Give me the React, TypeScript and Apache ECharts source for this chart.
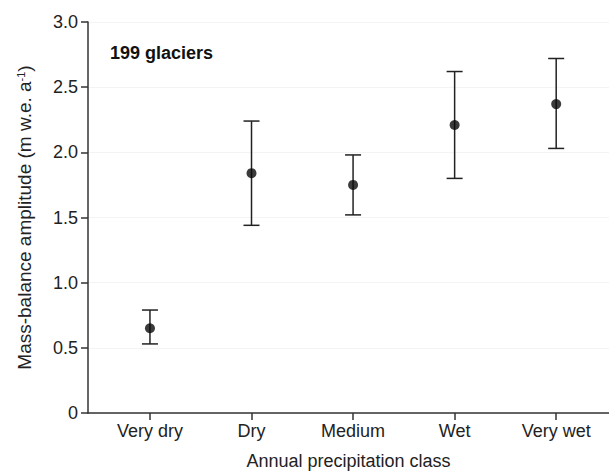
import React, { useEffect, useRef } from "react";
import * as echarts from "echarts";

const categories = ["Very dry", "Dry", "Medium", "Wet", "Very wet"];
const means = [0.65, 1.84, 1.75, 2.21, 2.37];
const lowers = [0.53, 1.44, 1.52, 1.8, 2.03];
const uppers = [0.79, 2.24, 1.98, 2.62, 2.72];
const yTicks = [0, 0.5, 1.0, 1.5, 2.0, 2.5, 3.0];

export default function App() {
  const ref = useRef<HTMLDivElement>(null);
  useEffect(() => {
    if (!ref.current) return;
    const chart = echarts.init(ref.current, null, { renderer: "svg" });
    const font = "Arial, 'Liberation Sans', Helvetica, sans-serif";
    const axisColor = "#333";
    const textColor = "#222";
    chart.setOption({
      animation: false,
      backgroundColor: "#fff",
      textStyle: { fontFamily: font },
      grid: { left: 88, right: 0, top: 22, bottom: 59.5, containLabel: false },
      graphic: [
        {
          type: "text",
          x: 110,
          y: 53,
          style: {
            text: "199 glaciers",
            font: `bold 18px ${font}`,
            fill: "#111",
            verticalAlign: "middle",
            align: "left",
          },
        },
      ],
      xAxis: {
        type: "value",
        min: -0.61,
        max: 4.52,
        splitLine: { show: false },
        axisLine: { onZero: false, lineStyle: { color: axisColor, width: 1.5 } },
        axisTick: {
          customValues: categories.map((_, i) => i),
          length: 7,
          lineStyle: { color: axisColor, width: 1.5 },
        },
        axisLabel: {
          customValues: categories.map((_, i) => i),
          formatter: (v: number) => categories[Math.round(v)] ?? "",
          color: textColor,
          fontSize: 18,
          fontFamily: font,
          margin: 9,
        },
        name: "Annual precipitation class",
        nameLocation: "middle",
        nameGap: 39,
        nameTextStyle: { color: textColor, fontSize: 18, fontFamily: font },
      },
      yAxis: {
        type: "value",
        min: 0,
        max: 3,
        interval: 0.5,
        axisLine: { show: true, onZero: false, lineStyle: { color: axisColor, width: 1.5 } },
        axisTick: { show: true, length: 7, lineStyle: { color: axisColor, width: 1.5 } },
        splitLine: { show: true, lineStyle: { color: "#f4f4f4", width: 1 } },
        axisLabel: {
          formatter: (v: number) => {
            const t = yTicks.find((k) => Math.abs(k - v) < 1e-6);
            const val = t === undefined ? v : t;
            return val === 0 ? "0" : val.toFixed(1);
          },
          color: textColor,
          fontSize: 18,
          fontFamily: font,
          margin: 10,
        },
        name: "Mass-balance amplitude (m w.e. a{sup|-1})",
        nameLocation: "middle",
        nameGap: 54,
        nameTextStyle: {
          color: textColor,
          fontSize: 19,
          fontFamily: font,
          rich: {
            sup: { fontSize: 11, verticalAlign: "top", color: textColor, fontFamily: font, padding: [0, 0, 8, 0] },
          },
        },
      },
      series: [
        {
          type: "custom",
          data: categories.map((_, i) => [i, lowers[i], uppers[i]]),
          encode: { x: 0, y: [1, 2] },
          renderItem: (params: any, api: any) => {
            const x = api.value(0);
            const lo = api.coord([x, api.value(1)]);
            const hi = api.coord([x, api.value(2)]);
            const half = 8;
            const style = { stroke: "#222", lineWidth: 1.5, fill: "none" };
            return {
              type: "group",
              children: [
                { type: "line", shape: { x1: lo[0], y1: lo[1], x2: hi[0], y2: hi[1] }, style },
                { type: "line", shape: { x1: lo[0] - half, y1: lo[1], x2: lo[0] + half, y2: lo[1] }, style },
                { type: "line", shape: { x1: hi[0] - half, y1: hi[1], x2: hi[0] + half, y2: hi[1] }, style },
              ],
            };
          },
          z: 2,
        },
        {
          type: "scatter",
          data: categories.map((_, i) => [i, means[i]]),
          symbol: "circle",
          symbolSize: 10,
          itemStyle: { color: "#0a0a0a" },
          z: 3,
        },
      ],
    });
    return () => chart.dispose();
  }, []);
  return (
    <div
      ref={ref}
      style={{ position: "absolute", left: 0, top: 0, width: 609, height: 475 }}
    />
  );
}
